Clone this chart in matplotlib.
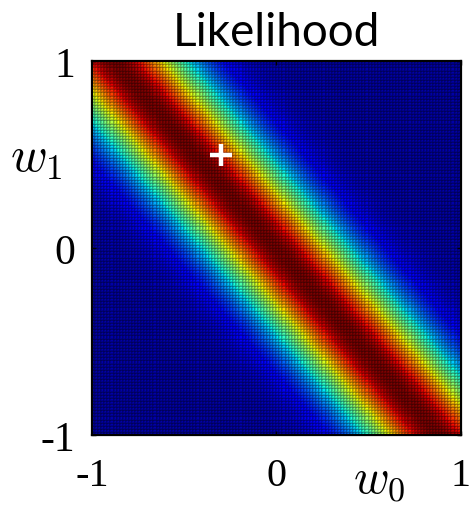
import matplotlib
matplotlib.use("Agg")

import matplotlib.pyplot as plt
import numpy as np

plt.rcParams.update({
    "mathtext.fontset": "cm",
    "axes.linewidth": 1.6,
})

# one observed data point (x, t) and the noise precision
x_obs = 0.88
t_obs = 0.0
beta = 13.5

# true parameters (white cross)
w0_true = -0.3
w1_true = 0.5

tick_vals = [-1, 0, 1]
tick_labels = ["-1", "0", "1"]

n_cells = 120
w0 = np.linspace(-1, 1, n_cells + 1)
w1 = np.linspace(-1, 1, n_cells + 1)
w0c = 0.5 * (w0[:-1] + w0[1:])
w1c = 0.5 * (w1[:-1] + w1[1:])
W0, W1 = np.meshgrid(w0c, w1c)

# likelihood p(t | x, w) = N(t | w0 + w1 x, 1/beta), scaled to max 1
lik = np.exp(-0.5 * beta * (t_obs - (W0 + W1 * x_obs)) ** 2)

fig = plt.figure(figsize=(4.72, 5.06), dpi=100)
ax = fig.add_axes([0.195, 0.138, 0.781, 0.739])

ax.pcolormesh(w0, w1, lik, cmap="jet", vmin=-0.04, vmax=1,
              edgecolors=(0, 0, 0, 0.18), linewidth=0.15, shading="flat")

ax.plot(w0_true, w1_true, marker="+", color="white",
        markersize=16, markeredgewidth=3.2)

ax.set_xlim(-1, 1)
ax.set_ylim(-1, 1)

ax.set_xticks(tick_vals)
ax.set_yticks(tick_vals)
ax.set_xticklabels(tick_labels, fontfamily="Liberation Serif", fontsize=29)
ax.set_yticklabels(tick_labels, fontfamily="Liberation Serif", fontsize=30)
ax.tick_params(direction="in", length=3, width=1, top=True, right=True,
               pad=12)
ax.tick_params(axis="x", pad=16)

ax.text(0.78, -0.115, r"$w_0$", transform=ax.transAxes, fontsize=35,
        ha="center", va="center")
ax.text(-0.152, 0.745, r"$w_1$", transform=ax.transAxes, fontsize=36,
        ha="center", va="center")

fig.text(0.585, 0.935, "Likelihood", fontfamily="Lato", fontsize=33,
         ha="center", va="center")

fig.savefig("out.png", dpi=100)
